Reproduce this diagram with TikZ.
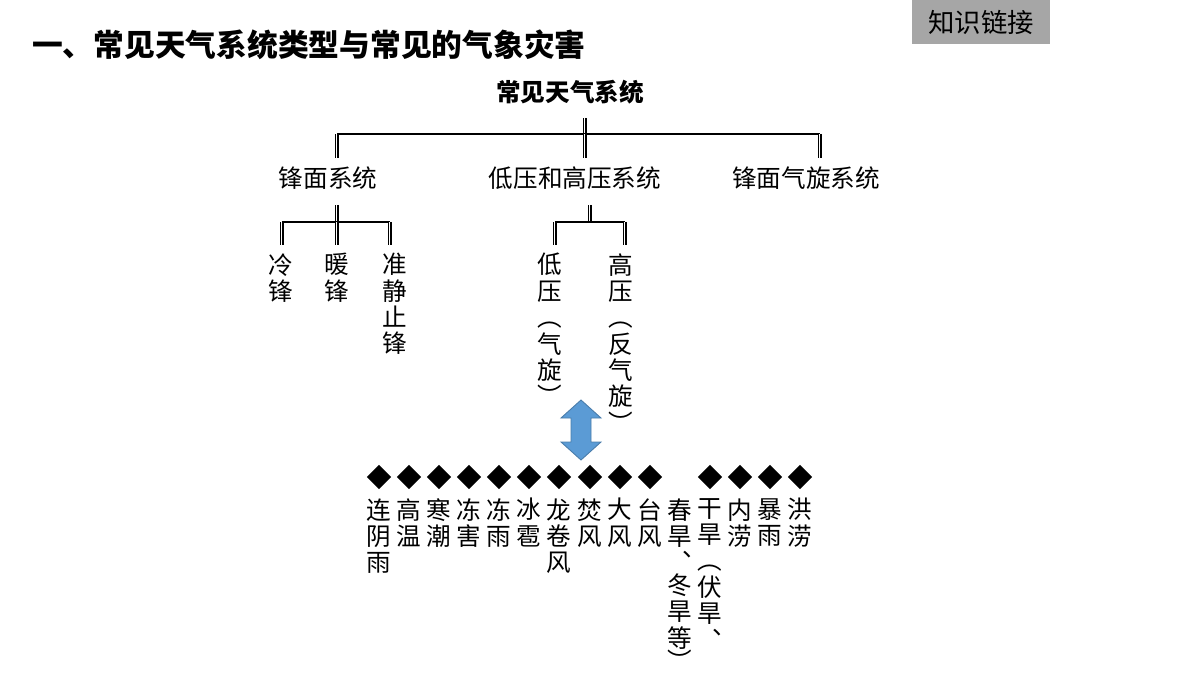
\documentclass[tikz,border=0pt]{standalone}
\usepackage{fontspec}
\setmainfont{Noto Sans CJK SC}
\usetikzlibrary{shapes.geometric}
\definecolor{linkgray}{RGB}{166,166,166}
\definecolor{arrowblue}{RGB}{91,155,213}
\tikzset{
  tri/.style={line width=0.45pt, double distance=1.4pt, postaction={draw, line width=0.45pt}},
  branch/.style={line width=0.8pt},
  word/.style={font=\fontsize{14}{15}\selectfont, inner sep=0pt},
  vword/.style={word, anchor=north, align=center},
  dia/.style={diamond, fill=black, inner sep=0pt, minimum size=14pt}
}
\begin{document}
\begin{tikzpicture}[x=0.02cm, y=-0.02cm]
  \useasboundingbox (0,0) rectangle (1200,675);
  % heading
  \node[anchor=west, font=\fontsize{17.5}{20}\selectfont\bfseries] (title) at (26,45) {一、常见天气系统类型与常见的气象灾害};
  \node[fill=linkgray, minimum width=138*0.02cm, minimum height=44*0.02cm, font=\fontsize{15}{17}\selectfont] (link) at (981,22) {知识链接};

  % first level
  \node[word, font=\fontsize{14}{16}\selectfont\bfseries] (root) at (570,92) {常见天气系统};
  \node[word] (front) at (328,178) {锋面系统};
  \node[word] (press) at (575,178) {低压和高压系统};
  \node[word] (cyclone) at (806,178) {锋面气旋系统};
  \coordinate (rj) at (585,134);
  \draw[tri] (585,118) -- (rj);
  \draw[branch] (337,134) -- (820,134);
  \draw[tri] (337,134) -- (337,158);
  \draw[tri] (rj) -- (585,158);
  \draw[tri] (820,134) -- (820,158);

  % fronts
  \node[vword] (cold) at (281,253) {冷\\锋};
  \node[vword] (warm) at (337,253) {暖\\锋};
  \node[vword] (stat) at (395,253) {准\\静\\止\\锋};
  \draw[tri] (337,205) -- (337,222);
  \draw[branch] (282,222) -- (390,222);
  \draw[tri] (282,222) -- (282,245);
  \draw[tri] (337,222) -- (337,245);
  \draw[tri] (390,222) -- (390,245);

  % pressure systems
  \node[vword] (low) at (550,253) {低\\压\\︵\\气\\旋\\︶};
  \node[vword] (high) at (621,253) {高\\压\\︵\\反\\气\\旋\\︶};
  \draw[tri] (590,205) -- (590,222);
  \draw[branch] (555,222) -- (625,222);
  \draw[tri] (555,222) -- (555,245);
  \draw[tri] (625,222) -- (625,245);

  % link arrow
  \begin{scope}[shift={(581,430)}]
    \filldraw[fill=arrowblue, draw=arrowblue!80!black, line width=0.5pt]
      (0,-30) -- (20,-12) -- (10,-12) -- (10,12) -- (20,12) -- (0,30)
      -- (-20,12) -- (-10,12) -- (-10,-12) -- (-20,-12) -- cycle;
  \end{scope}

  % hazards
  \foreach \x/\txt [count=\i] in {379/{连\\阴\\雨}, 409/{高\\温}, 439/{寒\\潮}, 469/{冻\\害},
      499/{冻\\雨}, 529/{冰\\雹}, 559/{龙\\卷\\风}, 590/{焚\\风}, 620/{大\\风}, 650/{台\\风},
      680/{春\\旱\\︑\\[-2pt]冬\\旱\\等\\[-2pt]︶}, 710/{干\\旱\\︵\\伏\\旱\\︑}, 740/{内\\涝}, 770/{暴\\雨}, 800/{洪\\涝}}
    \node[vword] (haz\i) at (\x,498) {\txt};
  \foreach \x [count=\i] in {379,409,439,469,499,529,559,590,620,650,710,740,770,800}
    \node[dia] (dot\i) at (\x,477) {};
\end{tikzpicture}
\end{document}
